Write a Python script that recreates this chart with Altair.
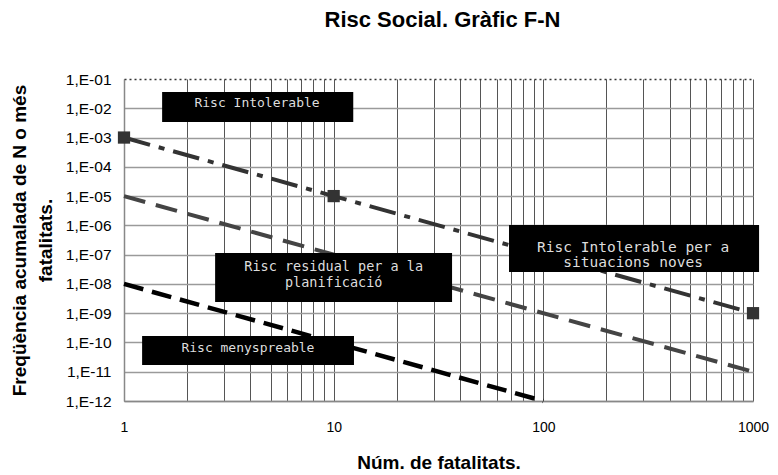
import altair as alt
import pandas as pd

# ---------------- data ----------------
# F-N criterion lines: N (fatalities) and cumulative frequency F
n_intolerable = [1, 10, 1000]
f_intolerable = [1e-3, 1e-5, 1e-9]
n_residual = [1, 1000]
f_residual = [1e-5, 1e-11]
n_negligible = [1, 100]
f_negligible = [1e-8, 1e-12]

# annotation boxes (extent in data units) and their texts
box_labels = [
    "Risc Intolerable",
    "Risc residual per a la\nplanificació",
    "Risc  Intolerable per a\nsituacions noves",
    "Risc menyspreable",
]
box_n_left = [1.52, 2.72, 68.6, 1.22]
box_n_right = [12.4, 36.7, 1069, 12.5]
box_f_top = [3.6e-2, 1.13e-7, 1.03e-6, 1.66e-10]
box_f_bottom = [3.4e-3, 2.4e-9, 2.55e-8, 1.69e-11]
label_n = [4.31, 10, 268, 3.9]
label_f = [1.51e-2, 2.0e-8, 9.3e-8, 6.45e-11]

# axis ticks
x_ticks = [1, 2, 3, 4, 5, 6, 7, 8, 9,
           10, 20, 30, 40, 50, 60, 70, 80, 90,
           100, 200, 300, 400, 500, 600, 700, 800, 900, 1000]
x_label_values = [1, 10, 100, 1000]
y_ticks = [1e-1, 1e-2, 1e-3, 1e-4, 1e-5, 1e-6, 1e-7, 1e-8, 1e-9, 1e-10, 1e-11, 1e-12]

# ---------------- chart ----------------
FONT = "Liberation Sans, Arial, sans-serif"
BOX_FONT = "DejaVu Sans Mono, monospace"

x_scale = alt.Scale(type="log", domain=[1, 1000], nice=False)
y_scale = alt.Scale(type="log", domain=[1e-12, 1e-1], nice=False)

x_axis = alt.Axis(
    values=x_ticks,
    title="Núm. de fatalitats.",
    labelExpr="indexof(" + str(x_label_values) + ", datum.value) >= 0 ? format(datum.value, 'd') : ''",
    labelOverlap=False,
    labelFlush=False,
    ticks=False,
    grid=True,
    gridColor="#555555",
    gridWidth=1,
    domainColor="#888888",
    domainWidth=1.5,
    labelFont=FONT,
    labelFontSize=14,
    labelColor="#000000",
    labelPadding=19,
    titleFont=FONT,
    titleFontSize=19,
    titleFontWeight="bold",
    titleColor="#000000",
    titlePadding=19,
)

y_axis = alt.Axis(
    values=y_ticks,
    title=["Freqüència acumalada de N o més", "fatalitats."],
    labelExpr="'1,E-' + format(-round(log(datum.value) / LN10), '02d')",
    labelOverlap=False,
    labelFlush=False,
    ticks=False,
    grid=True,
    gridColor={"condition": {"test": "datum.value > 0.05", "value": "#333333"}, "value": "#9a9a9a"},
    gridDash={"condition": {"test": "datum.value > 0.05", "value": [2, 3]}, "value": []},
    gridWidth=1.3,
    domainColor="#888888",
    domainWidth=1.5,
    labelFont=FONT,
    labelFontSize=15.5,
    labelColor="#000000",
    labelPadding=13,
    titleFont=FONT,
    titleFontSize=19,
    titleFontWeight="bold",
    titleColor="#000000",
    titleLineHeight=26,
    titlePadding=10,
)

X = lambda f: alt.X(f, scale=x_scale, axis=x_axis)
Y = lambda f: alt.Y(f, scale=y_scale, axis=y_axis)


def line_layer(ns, fs, color, dash, width):
    df = pd.DataFrame({"n": ns, "f": fs})
    return alt.Chart(df).mark_line(
        color=color, strokeDash=dash, strokeWidth=width, strokeCap="butt"
    ).encode(x=X("n:Q"), y=Y("f:Q"))


lines_a = line_layer(n_intolerable, f_intolerable, "#333333", [27, 9, 6, 9], 4)
lines_b = line_layer(n_residual, f_residual, "#444444", [22, 11], 4)
lines_c = line_layer(n_negligible, f_negligible, "#000000", [20, 9], 4.5)

markers = alt.Chart(pd.DataFrame({"n": n_intolerable, "f": f_intolerable})).mark_point(
    shape="square", filled=True, size=150, color="#333333", opacity=1
).encode(x=X("n:Q"), y=Y("f:Q"))

boxes_df = pd.DataFrame({
    "n1": box_n_left, "n2": box_n_right,
    "f1": box_f_top, "f2": box_f_bottom,
})
boxes = alt.Chart(boxes_df).mark_rect(color="#000000", opacity=1).encode(
    x=X("n1:Q"), x2="n2:Q", y=Y("f1:Q"), y2="f2:Q",
)

# text styling per label (font size, line height)
text_sizes = [13, 13.5, 14.5, 13]
line_heights = [16, 16, 15, 16]
text_layers = []
for i in range(len(box_labels)):
    n_lines = box_labels[i].count("\n") + 1
    tdf = pd.DataFrame({"n": [label_n[i]], "f": [label_f[i]], "t": [box_labels[i]]})
    text_layers.append(
        alt.Chart(tdf).mark_text(
            font=BOX_FONT, fontSize=text_sizes[i], color="#dddddd",
            align="center", baseline="middle", lineBreak="\n",
            lineHeight=line_heights[i], dy=-(n_lines - 1) * line_heights[i] / 2,
        ).encode(x=X("n:Q"), y=Y("f:Q"), text="t:N")
    )

chart = alt.layer(lines_a, lines_b, lines_c, markers, boxes, *text_layers).properties(
    width=629,
    height=322,
    padding={"left": 116, "top": 71, "right": 17, "bottom": 72},
    autosize=alt.AutoSizeParams(type="none"),
    background="#ffffff",
    title=alt.TitleParams(
        "Risc Social. Gràfic F-N",
        font=FONT, fontSize=22, fontWeight="bold", color="#000000",
        anchor="middle", offset=40, dx=4,
    ),
).configure_view(strokeWidth=0)

chart.save("out.html", embed_options={"renderer": "svg", "actions": False})
